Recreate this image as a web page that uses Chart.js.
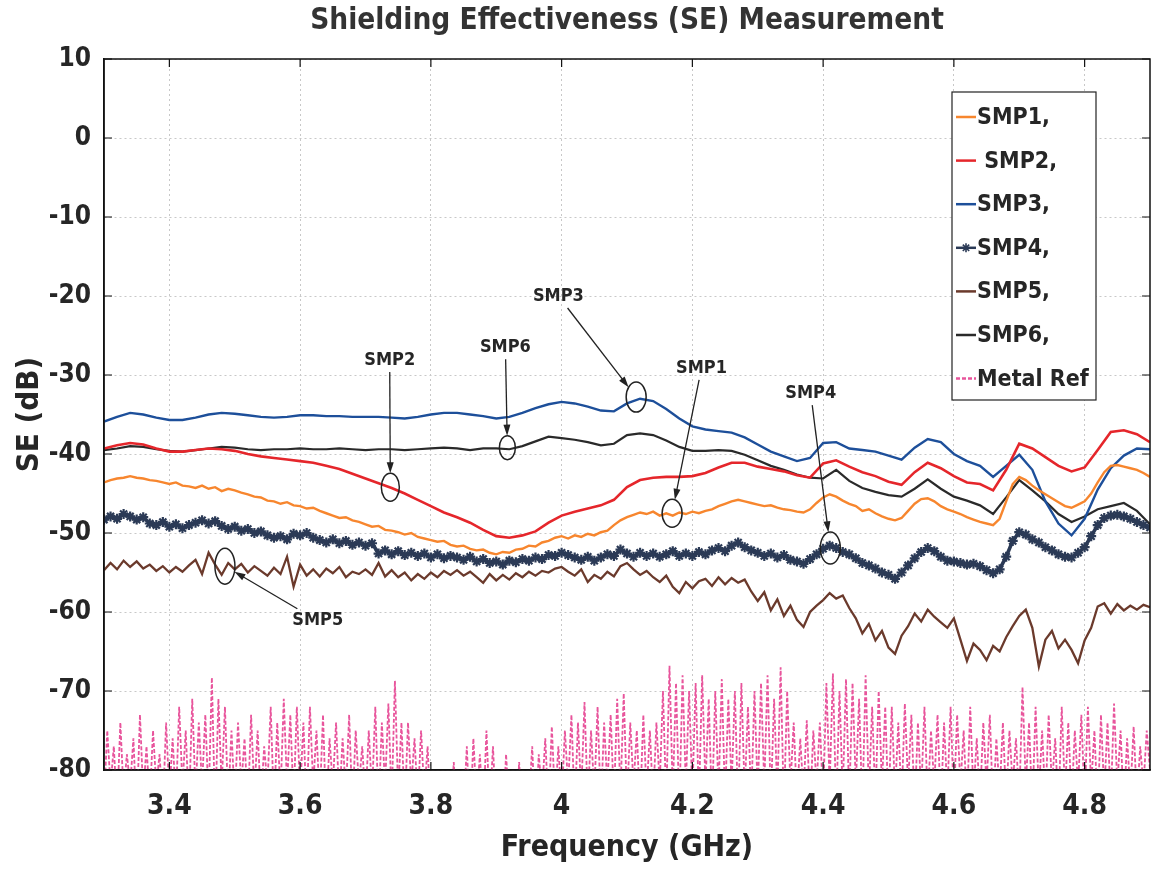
<!DOCTYPE html>
<html>
<head>
<meta charset="utf-8">
<script src="https://cdn.jsdelivr.net/npm/chart.js@4.4.1/dist/chart.umd.min.js"></script>
<style>
  html, body { margin: 0; padding: 0; background: #fff; }
  canvas { display: block; }
</style>
</head>
<body>
<canvas id="se" width="1159" height="877"></canvas>
<script>
const FONT = "'Liberation Sans Narrow', 'DejaVu Sans Condensed', 'Liberation Sans', sans-serif";
const INK = "#262626";

const TITLE = "Shielding Effectiveness (SE) Measurement";
const X_TITLE = "Frequency (GHz)";
const Y_TITLE = "SE (dB)";
const X_TICKS = [3.4, 3.6, 3.8, 4.0, 4.2, 4.4, 4.6, 4.8];
const X_TICK_LABELS = ["3.4", "3.6", "3.8", "4", "4.2", "4.4", "4.6", "4.8"];
const Y_TICKS = [10, 0, -10, -20, -30, -40, -50, -60, -70, -80];

// sampling grid (GHz)
const F_START = 3.3;
const STEP_SMOOTH = 0.02, STEP_NOISY = 0.01, STEP_REF = 0.005;

const LABELS = ["SMP1,", " SMP2,", "SMP3,", "SMP4,", "SMP5,", "SMP6,", "Metal Ref"];

// SMP1, every 0.01 GHz
const smp1 = [
  -43.6,-43.3,-43.1,-43.0,-42.8,-43.0,-43.1,-43.3,-43.4,-43.6,
  -43.8,-43.6,-44.0,-44.1,-44.3,-44.0,-44.4,-44.2,-44.7,-44.4,
  -44.6,-44.9,-45.1,-45.4,-45.5,-45.9,-46.0,-46.3,-46.1,-46.5,
  -46.6,-46.9,-46.8,-47.2,-47.5,-47.8,-48.1,-48.0,-48.4,-48.6,
  -48.9,-49.2,-49.1,-49.6,-49.7,-49.9,-50.2,-50.0,-50.5,-50.7,
  -50.9,-51.1,-51.0,-51.5,-51.7,-51.6,-52.0,-52.2,-52.1,-52.5,
  -52.7,-52.4,-52.5,-52.1,-52.0,-51.6,-51.7,-51.2,-51.0,-50.6,
  -50.4,-50.7,-50.3,-50.5,-50.1,-50.3,-49.9,-49.7,-49.0,-48.4,
  -48.0,-47.7,-47.4,-47.6,-47.3,-47.8,-47.5,-47.8,-47.4,-47.6,
  -47.3,-47.5,-47.2,-47.0,-46.6,-46.3,-46.0,-45.8,-46.0,-46.2,
  -46.4,-46.6,-46.5,-46.8,-47.0,-47.1,-47.3,-47.4,-47.0,-46.2,
  -45.5,-45.1,-45.4,-45.9,-46.3,-46.6,-47.2,-47.0,-47.5,-47.9,
  -48.2,-48.4,-48.1,-47.2,-46.3,-45.7,-45.6,-46.0,-46.6,-47.0,
  -47.3,-47.6,-48.0,-48.3,-48.6,-48.8,-49.0,-48.2,-46.0,-43.8,
  -42.9,-43.3,-44.0,-44.6,-45.1,-45.6,-46.1,-46.6,-46.8,-46.4,
  -46.0,-45.0,-43.6,-42.3,-41.5,-41.4,-41.6,-41.8,-42.0,-42.4,
  -42.9
];

// SMP2, every 0.02 GHz
const smp2 = [
  -39.3,-38.9,-38.6,-38.8,-39.3,-39.7,-39.7,-39.5,-39.3,-39.4,
  -39.6,-40.0,-40.3,-40.5,-40.7,-40.9,-41.1,-41.5,-41.9,-42.5,
  -43.1,-43.7,-44.3,-45.0,-45.8,-46.6,-47.4,-48.0,-48.7,-49.6,
  -50.4,-50.6,-50.3,-49.8,-48.7,-47.8,-47.3,-46.9,-46.5,-45.8,
  -44.2,-43.3,-43.0,-42.9,-42.9,-42.8,-42.4,-41.7,-41.1,-41.1,
  -41.6,-41.9,-42.2,-42.7,-43.0,-41.2,-40.8,-41.6,-42.3,-42.8,
  -43.5,-43.9,-42.3,-41.1,-41.8,-42.8,-43.6,-43.8,-44.6,-42.0,
  -38.7,-39.3,-40.4,-41.5,-42.2,-41.7,-39.5,-37.2,-37.0,-37.5,
  -38.5
];

// SMP3, every 0.02 GHz
const smp3 = [
  -35.9,-35.3,-34.8,-35.0,-35.4,-35.7,-35.7,-35.4,-35.0,-34.8,
  -34.9,-35.1,-35.3,-35.4,-35.3,-35.1,-35.1,-35.2,-35.2,-35.3,
  -35.3,-35.3,-35.4,-35.5,-35.3,-35.0,-34.8,-34.8,-35.0,-35.2,
  -35.5,-35.3,-34.8,-34.2,-33.7,-33.4,-33.6,-34.0,-34.5,-34.6,
  -33.6,-33.0,-33.3,-34.3,-35.5,-36.5,-36.9,-37.1,-37.3,-37.9,
  -38.8,-39.7,-40.3,-40.9,-40.5,-38.6,-38.5,-39.3,-39.5,-39.7,
  -40.2,-40.7,-39.2,-38.1,-38.5,-40.0,-40.9,-41.5,-42.9,-41.5,
  -40.1,-42.0,-46.0,-48.8,-50.3,-48.2,-44.5,-41.8,-40.2,-39.3,
  -39.4
];

// SMP4, every 0.01 GHz
const smp4 = [
  -48.3,-47.9,-48.2,-47.6,-47.9,-48.3,-48.0,-48.8,-49.0,-48.6,
  -49.2,-48.9,-49.4,-49.0,-48.7,-48.4,-48.8,-48.5,-49.1,-49.5,
  -49.2,-49.7,-49.5,-50.0,-49.8,-50.3,-50.6,-50.4,-50.8,-50.1,
  -50.3,-50.0,-50.6,-50.9,-51.2,-50.8,-51.3,-51.0,-51.5,-51.2,
  -51.6,-51.3,-52.6,-52.2,-52.7,-52.3,-52.8,-52.5,-52.9,-52.6,
  -53.1,-52.7,-53.2,-52.9,-53.1,-53.4,-53.0,-53.6,-53.3,-53.8,
  -53.6,-54.0,-53.5,-53.7,-53.3,-53.5,-53.1,-53.3,-52.8,-52.9,
  -52.5,-52.8,-53.1,-53.4,-53.0,-53.5,-53.1,-52.7,-52.9,-52.1,
  -52.6,-53.0,-52.5,-52.9,-52.6,-53.0,-52.7,-52.3,-52.9,-52.6,
  -52.9,-52.4,-52.7,-52.2,-51.9,-52.3,-51.6,-51.2,-51.8,-52.2,
  -52.5,-52.9,-52.6,-53.1,-52.8,-53.4,-53.6,-53.9,-53.3,-52.7,
  -52.0,-51.6,-51.9,-52.4,-52.7,-53.2,-53.8,-54.1,-54.5,-55.0,
  -55.3,-55.8,-55.0,-54.1,-53.2,-52.4,-51.9,-52.3,-53.0,-53.5,
  -53.6,-53.8,-54.0,-53.9,-54.2,-54.7,-55.1,-54.6,-53.0,-51.0,
  -49.9,-50.2,-50.8,-51.2,-51.8,-52.2,-52.7,-53.0,-53.1,-52.5,
  -51.8,-50.4,-49.0,-48.1,-47.8,-47.7,-47.9,-48.2,-48.6,-49.0,
  -49.3
];

// SMP5, every 0.01 GHz
const smp5 = [
  -54.7,-53.8,-54.6,-53.5,-54.3,-53.6,-54.5,-54.0,-54.8,-54.2,
  -55.0,-54.3,-54.9,-54.1,-53.4,-55.2,-52.5,-54.0,-55.3,-53.8,
  -54.6,-53.9,-55.0,-54.2,-54.8,-55.4,-54.4,-55.2,-53.0,-56.8,
  -54.0,-55.4,-54.6,-55.5,-54.5,-55.1,-54.3,-55.6,-54.9,-55.2,
  -54.6,-55.3,-53.8,-55.5,-54.7,-55.6,-55.0,-56.0,-55.2,-55.8,
  -55.0,-55.6,-54.8,-55.3,-54.7,-55.4,-54.9,-55.6,-56.3,-55.2,
  -56.0,-55.3,-55.9,-55.1,-55.6,-54.9,-55.4,-54.8,-55.0,-54.5,
  -54.3,-54.9,-55.4,-54.6,-56.2,-55.3,-55.8,-54.9,-55.5,-54.2,
  -53.8,-54.6,-55.3,-54.8,-55.6,-56.2,-55.4,-56.8,-57.6,-56.2,
  -57.0,-56.1,-55.8,-56.7,-55.6,-56.5,-55.7,-56.3,-55.9,-57.4,
  -58.6,-57.5,-59.8,-58.4,-60.5,-59.2,-61.0,-61.9,-60.0,-59.2,
  -58.5,-57.6,-58.3,-57.9,-59.5,-60.8,-62.7,-61.5,-63.6,-62.4,
  -64.5,-65.3,-63.0,-61.8,-60.2,-61.2,-59.7,-60.6,-61.3,-62.0,
  -60.8,-63.5,-66.2,-64.0,-64.8,-66.1,-64.3,-65.0,-63.2,-61.8,
  -60.5,-59.7,-62.0,-66.9,-63.5,-62.4,-64.6,-63.5,-64.8,-66.5,
  -63.6,-62.0,-59.3,-58.9,-60.2,-59.0,-59.8,-59.2,-59.7,-59.1,
  -59.4
];

// SMP6, every 0.02 GHz
const smp6 = [
  -39.5,-39.3,-39.0,-39.1,-39.4,-39.6,-39.7,-39.5,-39.3,-39.1,
  -39.2,-39.4,-39.5,-39.4,-39.4,-39.3,-39.4,-39.4,-39.3,-39.4,
  -39.5,-39.4,-39.4,-39.5,-39.4,-39.3,-39.2,-39.3,-39.5,-39.3,
  -39.3,-39.4,-39.0,-38.4,-37.8,-38.0,-38.2,-38.5,-38.9,-38.7,
  -37.6,-37.4,-37.6,-38.3,-39.1,-39.6,-39.6,-39.5,-39.6,-40.1,
  -40.8,-41.5,-42.0,-42.6,-43.0,-43.1,-42.0,-43.4,-44.3,-44.8,
  -45.2,-45.4,-44.4,-43.2,-44.4,-45.4,-45.9,-46.5,-47.6,-45.5,
  -43.3,-44.6,-46.0,-47.6,-48.6,-47.9,-47.0,-46.6,-46.2,-47.2,
  -48.9
];

// Metal reference, every 0.005 GHz (dips fall below the -80 dB floor)
const metalRef = [
  -84,-75,-82,-77,-85,-74,-83,-78,-82,-76,-86,-73,-83,-77,-84,-75,-82,-78,-85,-74,
  -83,-76,-84,-72,-82,-75,-85,-71,-83,-74,-82,-73,-84,-68.3,-86,-71,-82,-72,-84,-75,
  -84,-74,-82,-76,-85,-73,-83,-75,-84,-77,-82,-72,-85,-74,-83,-71,-82,-73,-84,-72,
  -83,-74,-85,-72,-82,-75,-84,-73,-86,-76,-82,-74,-84,-76,-83,-73,-85,-75,-82,-77,
  -84,-75,-83,-72,-85,-74,-82,-71.6,-84,-68.7,-83,-74,-85,-74,-82,-76,-84,-75,-83,-77,
  -86,-82,-88,-81,-85,-83,-87,-79,-86,-82,-85,-77,-87,-76,-84,-78,-86,-75,-85,-77,
  -86,-82,-87,-78,-85,-83,-88,-79,-86,-81,-84,-77,-87,-78,-83,-76,-85,-74.5,-84,-77,
  -84,-75,-82,-73,-85,-74,-83,-71.4,-84,-75,-83,-72,-85,-74,-82,-73,-84,-71,-83,-70.3,
  -84,-74,-82,-75,-85,-73,-83,-75,-84,-74,-82,-70,-84,-66.8,-83,-69,-85,-68,-82,-70,
  -83,-69,-84,-68,-82,-71,-85,-70,-83,-68.5,-84,-71,-82,-70,-85,-69,-83,-72,-84,-70,
  -83,-69,-82,-68,-84,-71,-83,-67,-85,-70,-82,-74,-84,-76,-83,-73.7,-85,-75,-82,-74,
  -84,-69,-82,-67.8,-85,-70,-83,-68.5,-84,-69,-82,-71,-85,-68,-83,-72,-84,-70,-82,-72,
  -85,-72,-83,-74,-84,-71.6,-82,-73,-85,-74,-83,-72,-84,-75,-82,-73,-85,-74,-83,-72,
  -84,-73,-82,-75,-85,-72,-83,-76,-84,-74,-82,-73,-85,-76,-83,-74,-84,-75,-82,-76,
  -84,-69.5,-82,-74,-85,-72,-83,-75,-84,-73,-82,-76,-85,-72,-83,-74,-84,-75,-82,-73,
  -84,-72,-82,-75,-85,-73,-83,-74,-84,-71.6,-82,-75,-85,-76,-83,-74.5,-84,-77,-82,-75,
  -80
];

// callouts: label position and circled spot, in data units (GHz, dB)
const CALLOUTS = [
  { text: "SMP2", tx: 3.737, ty: -28.1, ex: 3.738, ey: -44.2, rx: 9,  ry: 14 },
  { text: "SMP6", tx: 3.914, ty: -26.5, ex: 3.917, ey: -39.2, rx: 8,  ry: 12 },
  { text: "SMP3", tx: 3.995, ty: -20.0, ex: 4.114, ey: -32.8, rx: 10, ry: 15 },
  { text: "SMP1", tx: 4.214, ty: -29.1, ex: 4.169, ey: -47.5, rx: 10, ry: 14 },
  { text: "SMP4", tx: 4.381, ty: -32.3, ex: 4.411, ey: -51.9, rx: 10, ry: 16 },
  { text: "SMP5", tx: 3.627, ty: -61.1, ex: 3.485, ey: -54.2, rx: 10, ry: 18 }
];

const pts = (arr, step) => arr.map((y, i) => ({ x: Math.round((F_START + i * step) * 1000) / 1000, y }));

function line(label, data, color, width, extra = {}) {
  return Object.assign({
    label, data, borderColor: color, backgroundColor: color,
    borderWidth: width, pointRadius: 0, tension: 0, fill: false
  }, extra);
}

const datasets = [
  line(LABELS[0], pts(smp1, STEP_NOISY), "#f7862e", 2.4),
  line(LABELS[1], pts(smp2, STEP_SMOOTH), "#e5262b", 2.6),
  line(LABELS[2], pts(smp3, STEP_SMOOTH), "#1d4f9a", 2.4),
  line(LABELS[3], pts(smp4, STEP_NOISY), "#2b3a56", 3.6,
       { pointStyle: "star", pointRadius: 5, pointBorderWidth: 2.2,
         pointBorderColor: "#2b3a56", pointBackgroundColor: "#2b3a56" }),
  line(LABELS[4], pts(smp5, STEP_NOISY), "#6b3a2c", 2.3),
  line(LABELS[5], pts(smp6, STEP_SMOOTH), "#2a2a2a", 2.2),
  line(LABELS[6], pts(metalRef, STEP_REF), "#e8559c", 1.8, { borderDash: [4, 2] })
];

// box + inward tick marks on all sides
const frame = {
  id: "frame",
  afterDraw(chart) {
    const { ctx, chartArea: a, scales: { x, y } } = chart;
    ctx.save();
    ctx.strokeStyle = "#111";
    ctx.lineWidth = 1.5;
    ctx.strokeRect(a.left, a.top, a.right - a.left, a.bottom - a.top);
    ctx.lineWidth = 1.2;
    ctx.beginPath();
    X_TICKS.forEach(v => {
      const px = x.getPixelForValue(v);
      ctx.moveTo(px, a.bottom); ctx.lineTo(px, a.bottom - 8);
      ctx.moveTo(px, a.top); ctx.lineTo(px, a.top + 8);
    });
    Y_TICKS.forEach(v => {
      const py = y.getPixelForValue(v);
      ctx.moveTo(a.left, py); ctx.lineTo(a.left + 8, py);
      ctx.moveTo(a.right, py); ctx.lineTo(a.right - 8, py);
    });
    ctx.stroke();
    ctx.restore();
  }
};

const callouts = {
  id: "callouts",
  afterDraw(chart) {
    const { ctx, scales: { x, y } } = chart;
    ctx.save();
    ctx.font = `bold 18px ${FONT}`;
    ctx.textAlign = "center";
    ctx.textBaseline = "middle";
    CALLOUTS.forEach(c => {
      const lx = x.getPixelForValue(c.tx), ly = y.getPixelForValue(c.ty);
      const ex = x.getPixelForValue(c.ex), ey = y.getPixelForValue(c.ey);
      ctx.fillStyle = INK;
      ctx.fillText(c.text, lx, ly);
      const w = ctx.measureText(c.text).width;
      const dx = ex - lx, dy = ey - ly, d = Math.hypot(dx, dy);
      const ux = dx / d, uy = dy / d;
      const k = Math.min((w / 2 + 3) / Math.max(Math.abs(ux), 1e-6), 12 / Math.max(Math.abs(uy), 1e-6));
      const sx = lx + ux * k, sy = ly + uy * k;
      const t = 1 / Math.hypot(ux / c.rx, uy / c.ry);
      const tx = ex - ux * t, ty = ey - uy * t;
      ctx.strokeStyle = "#222";
      ctx.lineWidth = 1.3;
      ctx.beginPath(); ctx.moveTo(sx, sy); ctx.lineTo(tx - ux * 8, ty - uy * 8); ctx.stroke();
      ctx.beginPath();
      ctx.moveTo(tx, ty);
      ctx.lineTo(tx - ux * 11 - uy * 3.5, ty - uy * 11 + ux * 3.5);
      ctx.lineTo(tx - ux * 11 + uy * 3.5, ty - uy * 11 - ux * 3.5);
      ctx.closePath();
      ctx.fillStyle = "#222";
      ctx.fill();
      ctx.lineWidth = 1.5;
      ctx.beginPath(); ctx.ellipse(ex, ey, c.rx, c.ry, 0, 0, Math.PI * 2); ctx.stroke();
    });
    ctx.restore();
  }
};

const legendBox = {
  id: "legendBox",
  afterDraw(chart) {
    const { ctx, chartArea: a } = chart;
    const bx = a.right - 198, by = a.top + 33, bw = 144, bh = 308;
    ctx.save();
    ctx.fillStyle = "#fff";
    ctx.fillRect(bx, by, bw, bh);
    ctx.strokeStyle = "#222";
    ctx.lineWidth = 1.2;
    ctx.strokeRect(bx, by, bw, bh);
    ctx.font = `bold 23px ${FONT}`;
    ctx.textBaseline = "middle";
    ctx.textAlign = "left";
    chart.data.datasets.forEach((ds, i) => {
      const cy = by + 25 + i * 43.6;
      ctx.strokeStyle = ds.borderColor;
      ctx.lineWidth = 2.5;
      ctx.setLineDash(ds.borderDash || []);
      ctx.beginPath(); ctx.moveTo(bx + 4, cy); ctx.lineTo(bx + 24, cy); ctx.stroke();
      ctx.setLineDash([]);
      if (ds.pointStyle) {
        ctx.fillStyle = ds.pointBackgroundColor;
        ctx.lineWidth = 1.6;
        Chart.helpers.drawPoint(ctx, { pointStyle: ds.pointStyle, radius: 4.5, rotation: 0, borderWidth: 1.6 }, bx + 14, cy);
      }
      ctx.fillStyle = INK;
      ctx.fillText(ds.label, bx + 25, cy + 1);
    });
    ctx.restore();
  }
};

const gridStyle = { color: "#c8c8c8", lineWidth: 1, drawTicks: false };
const borderStyle = { display: true, color: "#111", width: 1.5, dash: [2, 3] };

new Chart(document.getElementById("se"), {
  type: "line",
  data: { datasets },
  plugins: [frame, callouts, legendBox],
  options: {
    responsive: false,
    animation: false,
    devicePixelRatio: 1,
    layout: { padding: { top: 0, right: 9, bottom: 0, left: 0 } },
    plugins: {
      legend: { display: false },
      tooltip: { enabled: false },
      title: {
        display: true, text: TITLE, fullSize: false, color: "#333",
        font: { family: FONT, size: 29.5, weight: "bold" },
        padding: { top: 4, bottom: 19.6 }
      }
    },
    scales: {
      x: {
        type: "linear", min: 3.3, max: 4.9,
        afterBuildTicks: s => { s.ticks = X_TICKS.map(v => ({ value: v })); },
        afterFit: s => { s.height = 107; },
        grid: gridStyle, border: borderStyle,
        ticks: {
          callback: (v, i) => X_TICK_LABELS[i],
          color: INK, font: { family: FONT, size: 28, weight: "bold" },
          padding: 20, maxRotation: 0, autoSkip: false
        },
        title: {
          display: true, text: X_TITLE, color: INK,
          font: { family: FONT, size: 30, weight: "bold" },
          padding: { top: 0, bottom: 11 }
        }
      },
      y: {
        min: -80, max: 10,
        afterBuildTicks: s => { s.ticks = Y_TICKS.map(v => ({ value: v })); },
        afterFit: s => { s.width = 104; },
        grid: gridStyle, border: borderStyle,
        ticks: { color: INK, font: { family: FONT, size: 26, weight: "bold" }, padding: 13 },
        title: {
          display: true, text: Y_TITLE, color: INK,
          font: { family: FONT, size: 31, weight: "bold" },
          padding: { top: 11, bottom: 0 }
        }
      }
    }
  }
});
</script>
</body>
</html>
